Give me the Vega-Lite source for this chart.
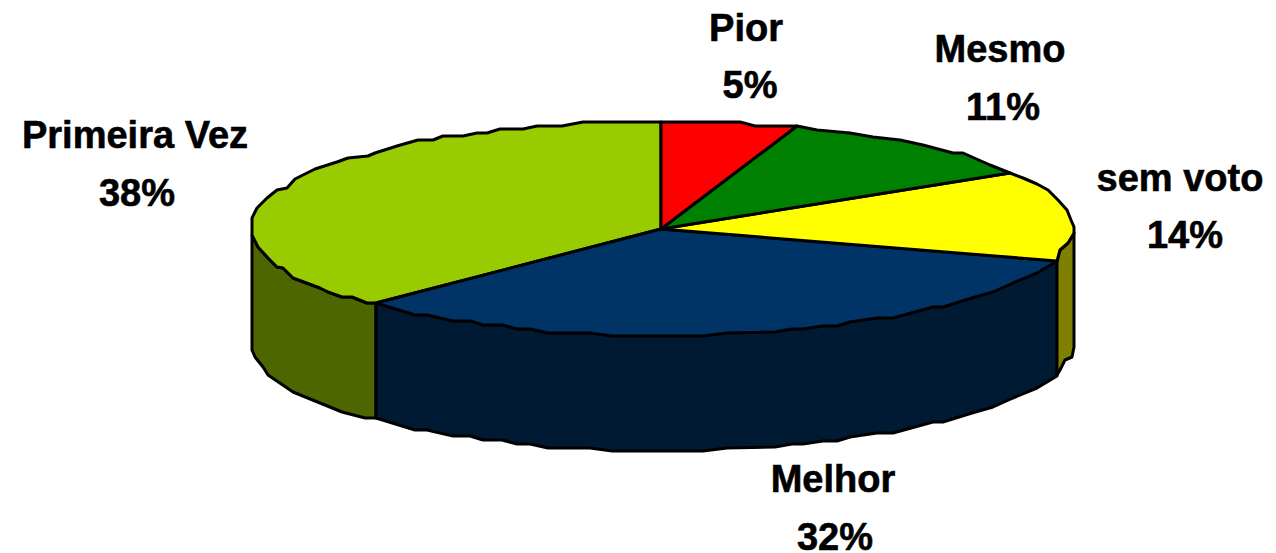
{"$schema":"https://vega.github.io/schema/vega-lite/v6.json","width":1276,"height":553,"autosize":{"type":"none"},"padding":0,"background":"#ffffff","view":{"stroke":null},"datasets":{"faces":[
{"part":"Primeira Vez lateral","i":0,"x":252,"y":235},{"part":"Primeira Vez lateral","i":1,"x":258,"y":247},{"part":"Primeira Vez lateral","i":2,"x":268,"y":258},{"part":"Primeira Vez lateral","i":3,"x":277,"y":267},{"part":"Primeira Vez lateral","i":4,"x":283,"y":268},{"part":"Primeira Vez lateral","i":5,"x":293,"y":278},{"part":"Primeira Vez lateral","i":6,"x":320,"y":288},{"part":"Primeira Vez lateral","i":7,"x":328,"y":292},{"part":"Primeira Vez lateral","i":8,"x":342,"y":297},{"part":"Primeira Vez lateral","i":9,"x":352,"y":297},{"part":"Primeira Vez lateral","i":10,"x":367,"y":303},{"part":"Primeira Vez lateral","i":11,"x":376,"y":303},{"part":"Primeira Vez lateral","i":12,"x":376,"y":418},{"part":"Primeira Vez lateral","i":13,"x":365,"y":418},{"part":"Primeira Vez lateral","i":14,"x":342,"y":412},{"part":"Primeira Vez lateral","i":15,"x":320,"y":403},{"part":"Primeira Vez lateral","i":16,"x":293,"y":392},{"part":"Primeira Vez lateral","i":17,"x":268,"y":375},{"part":"Primeira Vez lateral","i":18,"x":263,"y":367},{"part":"Primeira Vez lateral","i":19,"x":255,"y":357},{"part":"Primeira Vez lateral","i":20,"x":252,"y":350},{"part":"Primeira Vez lateral","i":21,"x":252,"y":235},
{"part":"Melhor lateral","i":0,"x":376,"y":303},{"part":"Melhor lateral","i":1,"x":703,"y":336},{"part":"Melhor lateral","i":2,"x":1057,"y":261},{"part":"Melhor lateral","i":3,"x":1057,"y":376},{"part":"Melhor lateral","i":4,"x":1037,"y":388},{"part":"Melhor lateral","i":5,"x":1013,"y":398},{"part":"Melhor lateral","i":6,"x":993,"y":407},{"part":"Melhor lateral","i":7,"x":972,"y":413},{"part":"Melhor lateral","i":8,"x":943,"y":422},{"part":"Melhor lateral","i":9,"x":933,"y":422},{"part":"Melhor lateral","i":10,"x":893,"y":433},{"part":"Melhor lateral","i":11,"x":877,"y":433},{"part":"Melhor lateral","i":12,"x":850,"y":437},{"part":"Melhor lateral","i":13,"x":837,"y":441},{"part":"Melhor lateral","i":14,"x":823,"y":441},{"part":"Melhor lateral","i":15,"x":803,"y":444},{"part":"Melhor lateral","i":16,"x":792,"y":444},{"part":"Melhor lateral","i":17,"x":775,"y":447},{"part":"Melhor lateral","i":18,"x":727,"y":448},{"part":"Melhor lateral","i":19,"x":703,"y":451},{"part":"Melhor lateral","i":20,"x":612,"y":451},{"part":"Melhor lateral","i":21,"x":590,"y":448},{"part":"Melhor lateral","i":22,"x":548,"y":448},{"part":"Melhor lateral","i":23,"x":530,"y":444},{"part":"Melhor lateral","i":24,"x":517,"y":444},{"part":"Melhor lateral","i":25,"x":502,"y":440},{"part":"Melhor lateral","i":26,"x":483,"y":440},{"part":"Melhor lateral","i":27,"x":470,"y":436},{"part":"Melhor lateral","i":28,"x":453,"y":436},{"part":"Melhor lateral","i":29,"x":427,"y":430},{"part":"Melhor lateral","i":30,"x":415,"y":430},{"part":"Melhor lateral","i":31,"x":376,"y":418},{"part":"Melhor lateral","i":32,"x":376,"y":303},
{"part":"sem voto lateral","i":0,"x":1057,"y":261},{"part":"sem voto lateral","i":1,"x":1060,"y":250},{"part":"sem voto lateral","i":2,"x":1068,"y":243},{"part":"sem voto lateral","i":3,"x":1074,"y":233},{"part":"sem voto lateral","i":4,"x":1074,"y":347},{"part":"sem voto lateral","i":5,"x":1072,"y":357},{"part":"sem voto lateral","i":6,"x":1065,"y":360},{"part":"sem voto lateral","i":7,"x":1060,"y":370},{"part":"sem voto lateral","i":8,"x":1057,"y":375},{"part":"sem voto lateral","i":9,"x":1057,"y":261},
{"part":"Primeira Vez","i":0,"x":661,"y":229},{"part":"Primeira Vez","i":1,"x":661,"y":122},{"part":"Primeira Vez","i":2,"x":583,"y":122},{"part":"Primeira Vez","i":3,"x":562,"y":126},{"part":"Primeira Vez","i":4,"x":537,"y":126},{"part":"Primeira Vez","i":5,"x":523,"y":129},{"part":"Primeira Vez","i":6,"x":500,"y":129},{"part":"Primeira Vez","i":7,"x":487,"y":133},{"part":"Primeira Vez","i":8,"x":477,"y":133},{"part":"Primeira Vez","i":9,"x":463,"y":136},{"part":"Primeira Vez","i":10,"x":443,"y":136},{"part":"Primeira Vez","i":11,"x":433,"y":140},{"part":"Primeira Vez","i":12,"x":418,"y":140},{"part":"Primeira Vez","i":13,"x":397,"y":146},{"part":"Primeira Vez","i":14,"x":375,"y":153},{"part":"Primeira Vez","i":15,"x":368,"y":156},{"part":"Primeira Vez","i":16,"x":348,"y":158},{"part":"Primeira Vez","i":17,"x":337,"y":162},{"part":"Primeira Vez","i":18,"x":315,"y":169},{"part":"Primeira Vez","i":19,"x":295,"y":179},{"part":"Primeira Vez","i":20,"x":287,"y":188},{"part":"Primeira Vez","i":21,"x":277,"y":190},{"part":"Primeira Vez","i":22,"x":267,"y":198},{"part":"Primeira Vez","i":23,"x":257,"y":208},{"part":"Primeira Vez","i":24,"x":252,"y":218},{"part":"Primeira Vez","i":25,"x":252,"y":235},{"part":"Primeira Vez","i":26,"x":258,"y":247},{"part":"Primeira Vez","i":27,"x":268,"y":258},{"part":"Primeira Vez","i":28,"x":277,"y":267},{"part":"Primeira Vez","i":29,"x":283,"y":268},{"part":"Primeira Vez","i":30,"x":293,"y":278},{"part":"Primeira Vez","i":31,"x":320,"y":288},{"part":"Primeira Vez","i":32,"x":328,"y":292},{"part":"Primeira Vez","i":33,"x":342,"y":297},{"part":"Primeira Vez","i":34,"x":352,"y":297},{"part":"Primeira Vez","i":35,"x":367,"y":303},{"part":"Primeira Vez","i":36,"x":376,"y":303},{"part":"Primeira Vez","i":37,"x":661,"y":229},
{"part":"Melhor","i":0,"x":661,"y":229},{"part":"Melhor","i":1,"x":376,"y":303},{"part":"Melhor","i":2,"x":415,"y":315},{"part":"Melhor","i":3,"x":427,"y":315},{"part":"Melhor","i":4,"x":453,"y":321},{"part":"Melhor","i":5,"x":470,"y":321},{"part":"Melhor","i":6,"x":483,"y":325},{"part":"Melhor","i":7,"x":502,"y":325},{"part":"Melhor","i":8,"x":517,"y":329},{"part":"Melhor","i":9,"x":530,"y":329},{"part":"Melhor","i":10,"x":548,"y":333},{"part":"Melhor","i":11,"x":590,"y":333},{"part":"Melhor","i":12,"x":612,"y":336},{"part":"Melhor","i":13,"x":703,"y":336},{"part":"Melhor","i":14,"x":727,"y":333},{"part":"Melhor","i":15,"x":775,"y":332},{"part":"Melhor","i":16,"x":792,"y":329},{"part":"Melhor","i":17,"x":803,"y":329},{"part":"Melhor","i":18,"x":823,"y":326},{"part":"Melhor","i":19,"x":837,"y":326},{"part":"Melhor","i":20,"x":850,"y":322},{"part":"Melhor","i":21,"x":877,"y":318},{"part":"Melhor","i":22,"x":893,"y":318},{"part":"Melhor","i":23,"x":933,"y":307},{"part":"Melhor","i":24,"x":943,"y":307},{"part":"Melhor","i":25,"x":972,"y":298},{"part":"Melhor","i":26,"x":993,"y":292},{"part":"Melhor","i":27,"x":1013,"y":283},{"part":"Melhor","i":28,"x":1037,"y":273},{"part":"Melhor","i":29,"x":1057,"y":261},{"part":"Melhor","i":30,"x":661,"y":229},
{"part":"sem voto","i":0,"x":661,"y":229},{"part":"sem voto","i":1,"x":1010,"y":173},{"part":"sem voto","i":2,"x":1023,"y":178},{"part":"sem voto","i":3,"x":1037,"y":184},{"part":"sem voto","i":4,"x":1048,"y":190},{"part":"sem voto","i":5,"x":1058,"y":200},{"part":"sem voto","i":6,"x":1067,"y":210},{"part":"sem voto","i":7,"x":1071,"y":220},{"part":"sem voto","i":8,"x":1074,"y":227},{"part":"sem voto","i":9,"x":1074,"y":233},{"part":"sem voto","i":10,"x":1068,"y":243},{"part":"sem voto","i":11,"x":1060,"y":250},{"part":"sem voto","i":12,"x":1057,"y":261},{"part":"sem voto","i":13,"x":661,"y":229},
{"part":"Mesmo","i":0,"x":661,"y":229},{"part":"Mesmo","i":1,"x":797,"y":126},{"part":"Mesmo","i":2,"x":817,"y":130},{"part":"Mesmo","i":3,"x":850,"y":133},{"part":"Mesmo","i":4,"x":873,"y":137},{"part":"Mesmo","i":5,"x":900,"y":140},{"part":"Mesmo","i":6,"x":923,"y":145},{"part":"Mesmo","i":7,"x":953,"y":153},{"part":"Mesmo","i":8,"x":963,"y":153},{"part":"Mesmo","i":9,"x":990,"y":165},{"part":"Mesmo","i":10,"x":1010,"y":173},{"part":"Mesmo","i":11,"x":661,"y":229},
{"part":"Pior","i":0,"x":661,"y":229},{"part":"Pior","i":1,"x":661,"y":122},{"part":"Pior","i":2,"x":740,"y":122},{"part":"Pior","i":3,"x":755,"y":126},{"part":"Pior","i":4,"x":797,"y":126},{"part":"Pior","i":5,"x":661,"y":229}
],"labels":[
{"text":"Pior","x":746,"y":41},{"text":"5%","x":750,"y":98},{"text":"Mesmo","x":1000,"y":62},{"text":"11%","x":1003,"y":120},{"text":"sem voto","x":1180,"y":191},{"text":"14%","x":1185,"y":248},{"text":"Primeira Vez","x":135,"y":148},{"text":"38%","x":137,"y":206},{"text":"Melhor","x":833,"y":492},{"text":"32%","x":835,"y":550}
]},
"layer":[
{"data":{"name":"faces"},"mark":{"type":"line","stroke":"#000000","strokeWidth":3,"strokeJoin":"round","clip":false},"encoding":{"x":{"field":"x","type":"quantitative","scale":{"domain":[0,1276],"nice":false,"zero":false},"axis":null},"y":{"field":"y","type":"quantitative","scale":{"domain":[553,0],"nice":false,"zero":false},"axis":null},"order":{"field":"i","type":"quantitative"},"detail":{"field":"part"},"fill":{"field":"part","type":"nominal","legend":null,"scale":{"domain":["Primeira Vez lateral","Melhor lateral","sem voto lateral","Primeira Vez","Melhor","sem voto","Mesmo","Pior"],"range":["#4D6600","#001A33","#808000","#99CC00","#003366","#FFFF00","#008000","#FF0000"]}}}},
{"data":{"name":"labels"},"mark":{"type":"text","font":"Liberation Sans","fontWeight":"bold","fontSize":38,"align":"center","baseline":"alphabetic","color":"#000000","stroke":"#000000","strokeWidth":0.6},"encoding":{"x":{"field":"x","type":"quantitative","scale":{"domain":[0,1276],"nice":false,"zero":false},"axis":null},"y":{"field":"y","type":"quantitative","scale":{"domain":[553,0],"nice":false,"zero":false},"axis":null},"text":{"field":"text","type":"nominal"}}}
]}
